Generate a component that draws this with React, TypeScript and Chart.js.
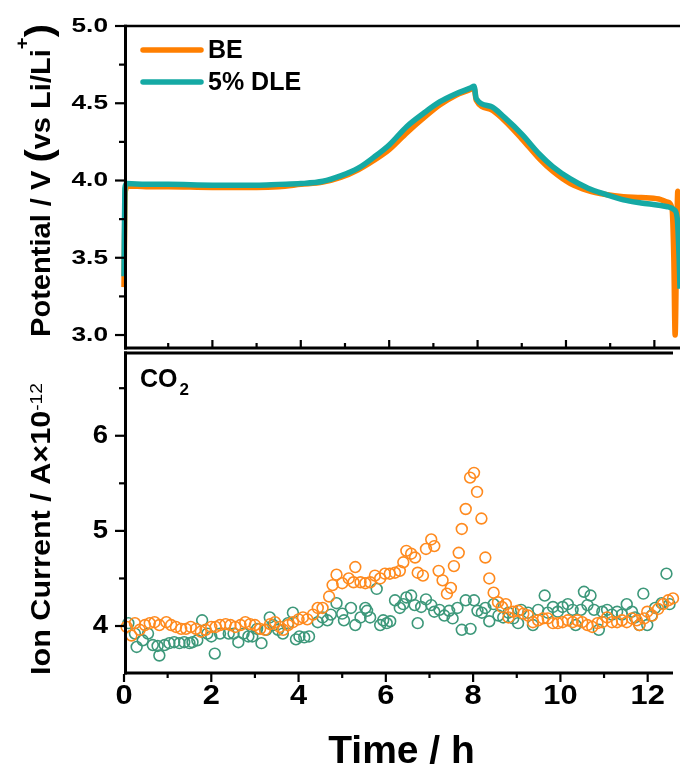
import React, { useEffect, useRef } from 'react';
import { Chart, registerables } from 'chart.js';
Chart.register(...registerables);

// ---------- data ----------
const beTime = [0, 0.03, 0.1, 0.5, 1, 2, 3, 3.5, 4, 4.5, 4.9, 5.3, 5.65, 6.0, 6.4, 6.8, 7.15, 7.5, 7.85, 7.92, 7.97, 8.3, 8.6, 9.0, 9.4, 9.7, 10.1, 10.5, 10.9, 11.3, 11.7, 12.1, 12.3, 12.4, 12.44, 12.47, 12.5, 12.53, 12.58];
const beVolt = [3.31, 3.93, 3.965, 3.96, 3.96, 3.955, 3.955, 3.96, 3.975, 3.99, 4.02, 4.07, 4.13, 4.2, 4.31, 4.41, 4.49, 4.55, 4.59, 4.6, 4.52, 4.46, 4.39, 4.27, 4.14, 4.06, 3.98, 3.935, 3.91, 3.895, 3.89, 3.88, 3.86, 3.82, 3.5, 3.0, 3.5, 3.93, 3.9];

const dleTime = [0, 0.02, 0.06, 0.5, 1, 2, 3, 3.5, 4, 4.5, 4.9, 5.3, 5.65, 6.0, 6.4, 6.8, 7.15, 7.5, 7.85, 7.92, 7.97, 8.3, 8.6, 9.0, 9.4, 9.7, 10.1, 10.5, 10.9, 11.3, 11.7, 12.1, 12.3, 12.45, 12.52, 12.56, 12.58];
const dleVolt = [3.38, 3.95, 3.98, 3.975, 3.975, 3.97, 3.97, 3.975, 3.98, 3.995, 4.03, 4.08, 4.15, 4.23, 4.35, 4.44, 4.51, 4.56, 4.6, 4.61, 4.53, 4.48, 4.41, 4.30, 4.17, 4.09, 4.01, 3.95, 3.91, 3.875, 3.855, 3.84, 3.83, 3.81, 3.75, 3.5, 3.3];

const beIonTime = [0.06, 0.17, 0.25, 0.36, 0.48, 0.59, 0.70, 0.81, 0.97, 1.08, 1.19, 1.31, 1.42, 1.53, 1.65, 1.76, 1.87, 2.00, 2.10, 2.20, 2.33, 2.44, 2.55, 2.67, 2.78, 2.89, 3.00, 3.12, 3.23, 3.35, 3.46, 3.57, 3.65, 3.76, 3.87, 4.00, 4.10, 4.20, 4.33, 4.44, 4.55, 4.70, 4.78, 4.87, 5.00, 5.15, 5.26, 5.30, 5.42, 5.53, 5.64, 5.75, 5.87, 5.98, 6.09, 6.21, 6.32, 6.40, 6.47, 6.58, 6.67, 6.73, 6.85, 6.92, 7.04, 7.11, 7.21, 7.30, 7.40, 7.49, 7.56, 7.67, 7.74, 7.83, 7.93, 8.02, 8.09, 8.19, 8.28, 8.37, 8.47, 8.57, 8.66, 8.75, 8.81, 8.92, 9.03, 9.15, 9.26, 9.37, 9.49, 9.60, 9.71, 9.83, 9.94, 10.05, 10.17, 10.28, 10.39, 10.50, 10.62, 10.73, 10.85, 10.96, 11.07, 11.18, 11.30, 11.41, 11.52, 11.64, 11.75, 11.81, 11.92, 11.99, 12.10, 12.24, 12.35, 12.47, 12.58];
const beIon = [3.99, 3.90, 4.03, 3.96, 4.01, 4.03, 4.04, 4.01, 4.04, 4.01, 3.99, 3.97, 3.97, 3.99, 3.97, 3.94, 3.96, 3.99, 3.99, 4.01, 4.02, 4.01, 3.99, 4.01, 4.04, 4.02, 4.01, 3.97, 3.96, 4.02, 4.04, 3.99, 3.96, 4.01, 4.04, 4.07, 4.09, 4.07, 4.12, 4.19, 4.19, 4.31, 4.43, 4.54, 4.45, 4.50, 4.46, 4.62, 4.46, 4.45, 4.46, 4.53, 4.50, 4.55, 4.55, 4.56, 4.58, 4.67, 4.79, 4.76, 4.72, 4.56, 4.53, 4.81, 4.91, 4.84, 4.58, 4.48, 4.34, 4.40, 4.63, 4.77, 5.02, 5.23, 5.56, 5.61, 5.41, 5.13, 4.72, 4.50, 4.35, 4.25, 4.20, 4.23, 4.09, 4.15, 4.16, 4.13, 4.11, 4.04, 4.06, 4.08, 4.08, 4.03, 4.03, 4.04, 4.06, 4.04, 4.06, 4.04, 4.01, 3.99, 4.03, 4.04, 4.09, 4.04, 4.04, 4.06, 4.04, 4.08, 4.06, 4.01, 4.08, 4.15, 4.11, 4.18, 4.23, 4.27, 4.29];

const dleIonTime = [0.10, 0.25, 0.29, 0.43, 0.55, 0.66, 0.77, 0.81, 0.93, 1.04, 1.15, 1.27, 1.38, 1.50, 1.57, 1.68, 1.79, 1.91, 2.00, 2.08, 2.20, 2.40, 2.51, 2.62, 2.74, 2.85, 2.94, 3.05, 3.15, 3.26, 3.34, 3.42, 3.53, 3.64, 3.76, 3.87, 3.94, 4.02, 4.13, 4.24, 4.44, 4.55, 4.66, 4.74, 4.87, 5.00, 5.04, 5.20, 5.30, 5.42, 5.53, 5.57, 5.64, 5.79, 5.87, 5.94, 6.02, 6.10, 6.21, 6.32, 6.40, 6.47, 6.58, 6.66, 6.73, 6.81, 6.92, 7.04, 7.11, 7.23, 7.34, 7.45, 7.53, 7.64, 7.74, 7.83, 7.94, 8.02, 8.10, 8.20, 8.28, 8.37, 8.47, 8.58, 8.69, 8.81, 8.92, 9.03, 9.10, 9.26, 9.37, 9.49, 9.64, 9.71, 9.83, 9.94, 10.05, 10.17, 10.28, 10.35, 10.47, 10.54, 10.62, 10.69, 10.77, 10.88, 10.96, 11.07, 11.18, 11.30, 11.41, 11.52, 11.64, 11.71, 11.81, 11.90, 11.99, 12.09, 12.17, 12.32, 12.43, 12.50];
const dleIon = [4.03, 3.92, 3.78, 3.85, 3.92, 3.80, 3.79, 3.69, 3.80, 3.82, 3.83, 3.82, 3.83, 3.82, 3.83, 3.85, 4.06, 3.92, 3.89, 3.71, 3.92, 3.92, 3.92, 3.83, 3.92, 3.89, 3.89, 3.97, 3.82, 3.96, 4.09, 4.01, 3.96, 3.92, 4.03, 4.14, 3.86, 3.89, 3.88, 3.89, 4.04, 4.09, 4.06, 4.12, 4.24, 4.13, 4.06, 4.19, 4.01, 4.09, 4.19, 4.16, 4.09, 4.39, 4.01, 4.06, 4.03, 4.05, 4.27, 4.19, 4.23, 4.30, 4.32, 4.22, 4.03, 4.20, 4.28, 4.22, 4.15, 4.17, 4.11, 4.16, 4.08, 4.19, 3.96, 4.27, 3.97, 4.27, 4.16, 4.14, 4.19, 4.05, 4.23, 4.11, 4.09, 4.14, 4.08, 4.03, 4.17, 4.14, 4.01, 4.17, 4.32, 4.14, 4.20, 4.15, 4.20, 4.23, 4.17, 4.01, 4.17, 4.36, 4.22, 4.32, 4.17, 3.96, 4.15, 4.17, 4.12, 4.15, 4.12, 4.23, 4.15, 4.09, 4.01, 4.34, 4.01, 4.11, 4.19, 4.24, 4.55, 4.23];

const xTicks = [0, 2, 4, 6, 8, 10, 12];
const xMinorTicks = [1, 3, 5, 7, 9, 11];
const topYTicks = [3.0, 3.5, 4.0, 4.5, 5.0];
const topYMinor = [3.25, 3.75, 4.25, 4.75];
const botYTicks = [4, 5, 6];
const botYMinor = [4.5, 5.5, 6.5];

const seriesNames = ['BE', '5% DLE'];

const X_MIN = 0, X_MAX = 12.58;
const TOP_MIN = 2.916, TOP_MAX = 5.0;
const BOT_MIN = 3.506, BOT_MAX = 6.87;

const ORANGE_LINE = '#FF7F00';
const TEAL_LINE = '#15A9A4';
const ORANGE_PT = '#FF8A1E';
const GREEN_PT = '#3D987A';
const FONT = '"Liberation Sans", Arial, Helvetica, sans-serif';

const zip = (xs: number[], ys: number[]) => xs.map((x, i) => ({ x, y: ys[i] }));

function seg(ctx: CanvasRenderingContext2D, x1: number, y1: number, x2: number, y2: number, w: number) {
  ctx.lineWidth = w;
  ctx.beginPath();
  ctx.moveTo(x1, y1);
  ctx.lineTo(x2, y2);
  ctx.stroke();
}

function txt(ctx: CanvasRenderingContext2D, s: string, x: number, y: number, font: string,
  align: CanvasTextAlign, baseline: CanvasTextBaseline, sx = 1) {
  ctx.save();
  ctx.font = font;
  ctx.fillStyle = '#000';
  ctx.textAlign = align;
  ctx.textBaseline = baseline;
  ctx.translate(x, y);
  ctx.scale(sx, 1);
  ctx.fillText(s, 0, 0);
  ctx.restore();
}

type Piece = { s: string; font: string; dy: number };
function rotatedTitle(ctx: CanvasRenderingContext2D, pieces: Piece[], xBase: number, yStart: number, yEnd: number) {
  ctx.save();
  const widths = pieces.map(p => { ctx.font = p.font; return ctx.measureText(p.s).width; });
  const total = widths.reduce((a, b) => a + b, 0);
  const sx = (yStart - yEnd) / total;
  ctx.translate(xBase, yStart);
  ctx.rotate(-Math.PI / 2);
  ctx.scale(sx, 1);
  ctx.fillStyle = '#000';
  ctx.textAlign = 'left';
  ctx.textBaseline = 'alphabetic';
  let pos = 0;
  pieces.forEach((p, i) => {
    ctx.font = p.font;
    ctx.fillText(p.s, pos, p.dy);
    pos += widths[i];
  });
  ctx.restore();
}

const topDecor = {
  id: 'topDecor',
  afterDraw(chart: any) {
    const { ctx, chartArea: a, scales } = chart;
    const x = scales.x, y = scales.y;
    ctx.save();
    ctx.strokeStyle = '#000';
    ctx.lineCap = 'butt';
    // frame
    seg(ctx, a.left, a.top, a.right, a.top, 2.5);
    seg(ctx, a.left + 1.5, a.top - 1.2, a.left + 1.5, a.bottom + 1.5, 3);
    seg(ctx, a.left, a.bottom, a.right, a.bottom, 3);
    // y ticks (outward)
    topYTicks.forEach(v => { const p = y.getPixelForValue(v); seg(ctx, a.left - 9, p, a.left, p, 2.2); });
    topYMinor.forEach(v => { const p = y.getPixelForValue(v); seg(ctx, a.left - 5, p, a.left, p, 2.2); });
    // x ticks pointing up from separator
    xTicks.forEach(v => { const p = x.getPixelForValue(v); if (v > 0) seg(ctx, p, a.bottom - 1, p, a.bottom - 8, 2.2); });
    xMinorTicks.forEach(v => { const p = x.getPixelForValue(v); seg(ctx, p, a.bottom - 1, p, a.bottom - 5, 2.2); });
    // y tick labels
    topYTicks.forEach(v => {
      txt(ctx, v.toFixed(1), 108, y.getPixelForValue(v), `bold 21px ${FONT}`, 'right', 'middle', 1.25);
    });
    // legend
    ctx.lineCap = 'round';
    ctx.strokeStyle = ORANGE_LINE;
    seg(ctx, 143, 50, 201, 50, 5.5);
    ctx.strokeStyle = TEAL_LINE;
    seg(ctx, 143, 82, 201, 82, 5.5);
    txt(ctx, seriesNames[0], 208, 51, `bold 25px ${FONT}`, 'left', 'middle');
    txt(ctx, seriesNames[1], 208, 83, `bold 25px ${FONT}`, 'left', 'middle');
    // y title
    rotatedTitle(ctx, [
      { s: 'Potential / V ', font: `bold 27px ${FONT}`, dy: 0 },
      { s: '(', font: `bold 37px ${FONT}`, dy: 1 },
      { s: 'vs Li/Li', font: `bold 27px ${FONT}`, dy: 0 },
      { s: '+', font: `bold 19px ${FONT}`, dy: -22 },
      { s: ')', font: `bold 37px ${FONT}`, dy: 1 },
    ], 50, 337, 24);
    ctx.restore();
  },
};

const botDecor = {
  id: 'botDecor',
  afterDraw(chart: any) {
    const { ctx, chartArea: a, scales } = chart;
    const x = scales.x, y = scales.y;
    ctx.save();
    ctx.strokeStyle = '#000';
    ctx.lineCap = 'butt';
    seg(ctx, a.left, a.top, a.right, a.top, 3);
    seg(ctx, a.left + 1.5, a.top - 1.5, a.left + 1.5, a.bottom + 1.5, 3);
    seg(ctx, a.left, a.bottom, a.right, a.bottom, 3);
    botYTicks.forEach(v => { const p = y.getPixelForValue(v); seg(ctx, a.left - 9, p, a.left, p, 2.2); });
    botYMinor.forEach(v => { const p = y.getPixelForValue(v); seg(ctx, a.left - 5, p, a.left, p, 2.2); });
    xTicks.forEach(v => { const p = x.getPixelForValue(v); seg(ctx, p, a.bottom + 1, p, a.bottom + 9, 2.2); });
    xMinorTicks.forEach(v => { const p = x.getPixelForValue(v); seg(ctx, p, a.bottom + 1, p, a.bottom + 5, 2.2); });
    botYTicks.forEach(v => {
      txt(ctx, String(v), 108, y.getPixelForValue(v), `bold 25px ${FONT}`, 'right', 'middle', 1.1);
    });
    xTicks.forEach(v => {
      txt(ctx, String(v), x.getPixelForValue(v), a.bottom + 23, `bold 28px ${FONT}`, 'center', 'middle', 1.1);
    });
    txt(ctx, 'Time / h', (a.left + a.right) / 2 + 3, a.bottom + 90, `bold 39px ${FONT}`, 'center', 'alphabetic');
    // CO2 label
    txt(ctx, 'CO', 140, a.top + 34, `bold 25px ${FONT}`, 'left', 'alphabetic');
    ctx.font = `bold 25px ${FONT}`;
    const w = ctx.measureText('CO').width;
    txt(ctx, '2', 140 + w + 2, a.top + 42, `bold 17px ${FONT}`, 'left', 'alphabetic');
    rotatedTitle(ctx, [
      { s: 'Ion Current / A\u00d710', font: `bold 27px ${FONT}`, dy: 0 },
      { s: '-12', font: `17px ${FONT}`, dy: -8 },
    ], 50, 329, 37);
    ctx.restore();
  },
};

export default function App() {
  const topRef = useRef<HTMLCanvasElement>(null);
  const botRef = useRef<HTMLCanvasElement>(null);

  useEffect(() => {
    document.body.style.margin = '0';
    const hidden = {
      grid: { display: false, drawTicks: false },
      border: { display: false },
      ticks: { display: false },
    };
    const top = new Chart(topRef.current!, {
      type: 'line',
      data: {
        datasets: [
          { label: seriesNames[1], data: zip(dleTime, dleVolt), borderColor: TEAL_LINE, borderWidth: 5.5, pointRadius: 0, cubicInterpolationMode: 'monotone', fill: false, clip: false } as any,
          { label: seriesNames[0], data: zip(beTime, beVolt), borderColor: ORANGE_LINE, borderWidth: 5.5, pointRadius: 0, cubicInterpolationMode: 'monotone', fill: false, clip: false } as any,
        ],
      },
      options: {
        animation: false,
        responsive: false,
        devicePixelRatio: 1,
        events: [],
        layout: { padding: { top: 26, bottom: 4, left: 0, right: 0 } },
        plugins: { legend: { display: false }, tooltip: { enabled: false } },
        scales: {
          x: { type: 'linear', min: X_MIN, max: X_MAX, display: false },
          y: { type: 'linear', min: TOP_MIN, max: TOP_MAX, ...hidden, afterFit: (s: any) => { s.width = 124; } } as any,
        },
      },
      plugins: [topDecor],
    });
    const bot = new Chart(botRef.current!, {
      type: 'scatter',
      data: {
        datasets: [
          { label: seriesNames[0], data: zip(beIonTime, beIon), borderColor: ORANGE_PT, backgroundColor: 'rgba(0,0,0,0)', pointRadius: 5.4, borderWidth: 1.6, pointStyle: 'circle', clip: false } as any,
          { label: seriesNames[1], data: zip(dleIonTime, dleIon), borderColor: GREEN_PT, backgroundColor: 'rgba(0,0,0,0)', pointRadius: 5.4, borderWidth: 1.6, pointStyle: 'circle', clip: false } as any,
        ],
      },
      options: {
        animation: false,
        responsive: false,
        devicePixelRatio: 1,
        events: [],
        layout: { padding: { top: 5, bottom: 0, left: 0, right: 0 } },
        plugins: { legend: { display: false }, tooltip: { enabled: false } },
        scales: {
          x: { type: 'linear', min: X_MIN, max: X_MAX, ...hidden, afterFit: (s: any) => { s.height = 99; } } as any,
          y: { type: 'linear', min: BOT_MIN, max: BOT_MAX, ...hidden, afterFit: (s: any) => { s.width = 124; } } as any,
        },
      },
      plugins: [botDecor],
    });
    return () => { top.destroy(); bot.destroy(); };
  }, []);

  return (
    <div style={{ position: 'relative', width: 680, height: 772, background: '#fff', overflow: 'hidden' }}>
      <canvas ref={topRef} width={680} height={352} style={{ position: 'absolute', left: 0, top: 0 }} />
      <canvas ref={botRef} width={680} height={426} style={{ position: 'absolute', left: 0, top: 346 }} />
    </div>
  );
}
